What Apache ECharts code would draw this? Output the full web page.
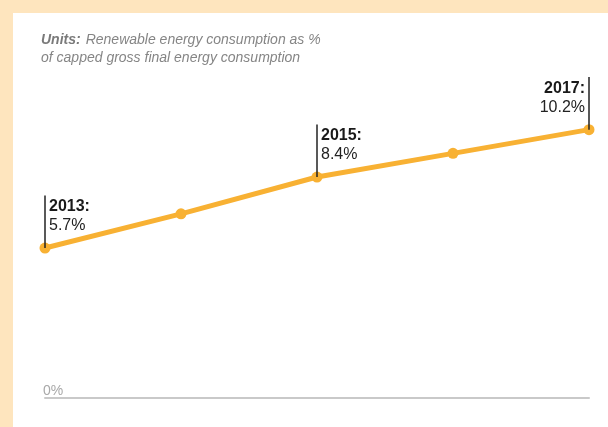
<!DOCTYPE html>
<html><head><meta charset="utf-8">
<script src="https://cdn.jsdelivr.net/npm/echarts@6/dist/echarts.min.js"></script>
<style>html,body{margin:0;padding:0;background:#FEE5BE;}#c{width:608px;height:427px;}</style>
</head><body><div id="c"></div>
<script>
const years = ['2013', '2014', '2015', '2016', '2017'];
const values = [5.7, 7.0, 8.4, 9.3, 10.2];
const annotated = [0, 2, 4];
const stemLength = 2.0;

const chart = echarts.init(document.getElementById('c'));
const seriesData = values.map((v, i) => {
  const item = { value: v };
  if (annotated.includes(i)) {
    const right = i === values.length - 1;
    item.label = {
      show: true,
      position: 'top',
      align: right ? 'right' : 'left',
      offset: [right ? -4 : 4, -2],
      formatter: '{b|' + years[i] + ':}\n{v|' + v.toFixed(1) + '%}',
      rich: {
        b: { fontWeight: 'bold', fontSize: 16, lineHeight: 19, color: '#1a1a1a', fontFamily: 'Liberation Sans' },
        v: { fontSize: 16, lineHeight: 19, color: '#222', fontFamily: 'Liberation Sans' }
      }
    };
  }
  return item;
});
const stems = annotated.map(i => [
  { coord: [years[i], values[i]] },
  { coord: [years[i], values[i] + stemLength] }
]);

chart.setOption({
  backgroundColor: '#FEE5BE',
  animation: false,
  graphic: [{ type: 'rect', left: 13, top: 13, shape: { width: 595, height: 414 }, style: { fill: '#ffffff' }, z: -10 }],
  title: {
    left: 41, top: 31, padding: 0,
    text: '{u|Units:} {t|Renewable energy consumption as %}\n{t|of capped gross final energy consumption}',
    textStyle: {
      fontWeight: 'normal',
      rich: {
        u: { fontWeight: 'bold', fontStyle: 'italic', fontSize: 14, color: '#7a7a7a', fontFamily: 'Liberation Sans', lineHeight: 18 },
        t: { fontWeight: 'normal', fontStyle: 'italic', fontSize: 14, color: '#858585', fontFamily: 'Liberation Sans', lineHeight: 18 }
      }
    }
  },
  grid: { left: 45, right: 19, top: 56, bottom: 29 },
  xAxis: {
    type: 'category', data: years, boundaryGap: false,
    axisLine: { lineStyle: { color: '#c9c9c9', width: 2 } },
    axisTick: { show: false }, axisLabel: { show: false }
  },
  yAxis: {
    type: 'value', min: 0, max: 13, interval: 1,
    splitLine: { show: false }, axisLine: { show: false }, axisTick: { show: false },
    axisLabel: {
      inside: true, margin: -2, verticalAlign: 'bottom', color: '#a8a8a8', fontSize: 14, fontFamily: 'Liberation Sans',
      formatter: v => v === 0 ? '0%' : ''
    }
  },
  series: [{
    type: 'line', data: seriesData, clip: false,
    lineStyle: { color: '#F8B133', width: 5 },
    itemStyle: { color: '#F8B133' },
    symbol: 'circle', symbolSize: 11,
    markLine: {
      silent: true, symbol: 'none', label: { show: false },
      lineStyle: { color: '#222', width: 1.5, type: 'solid' },
      data: stems
    }
  }]
});
</script></body></html>
